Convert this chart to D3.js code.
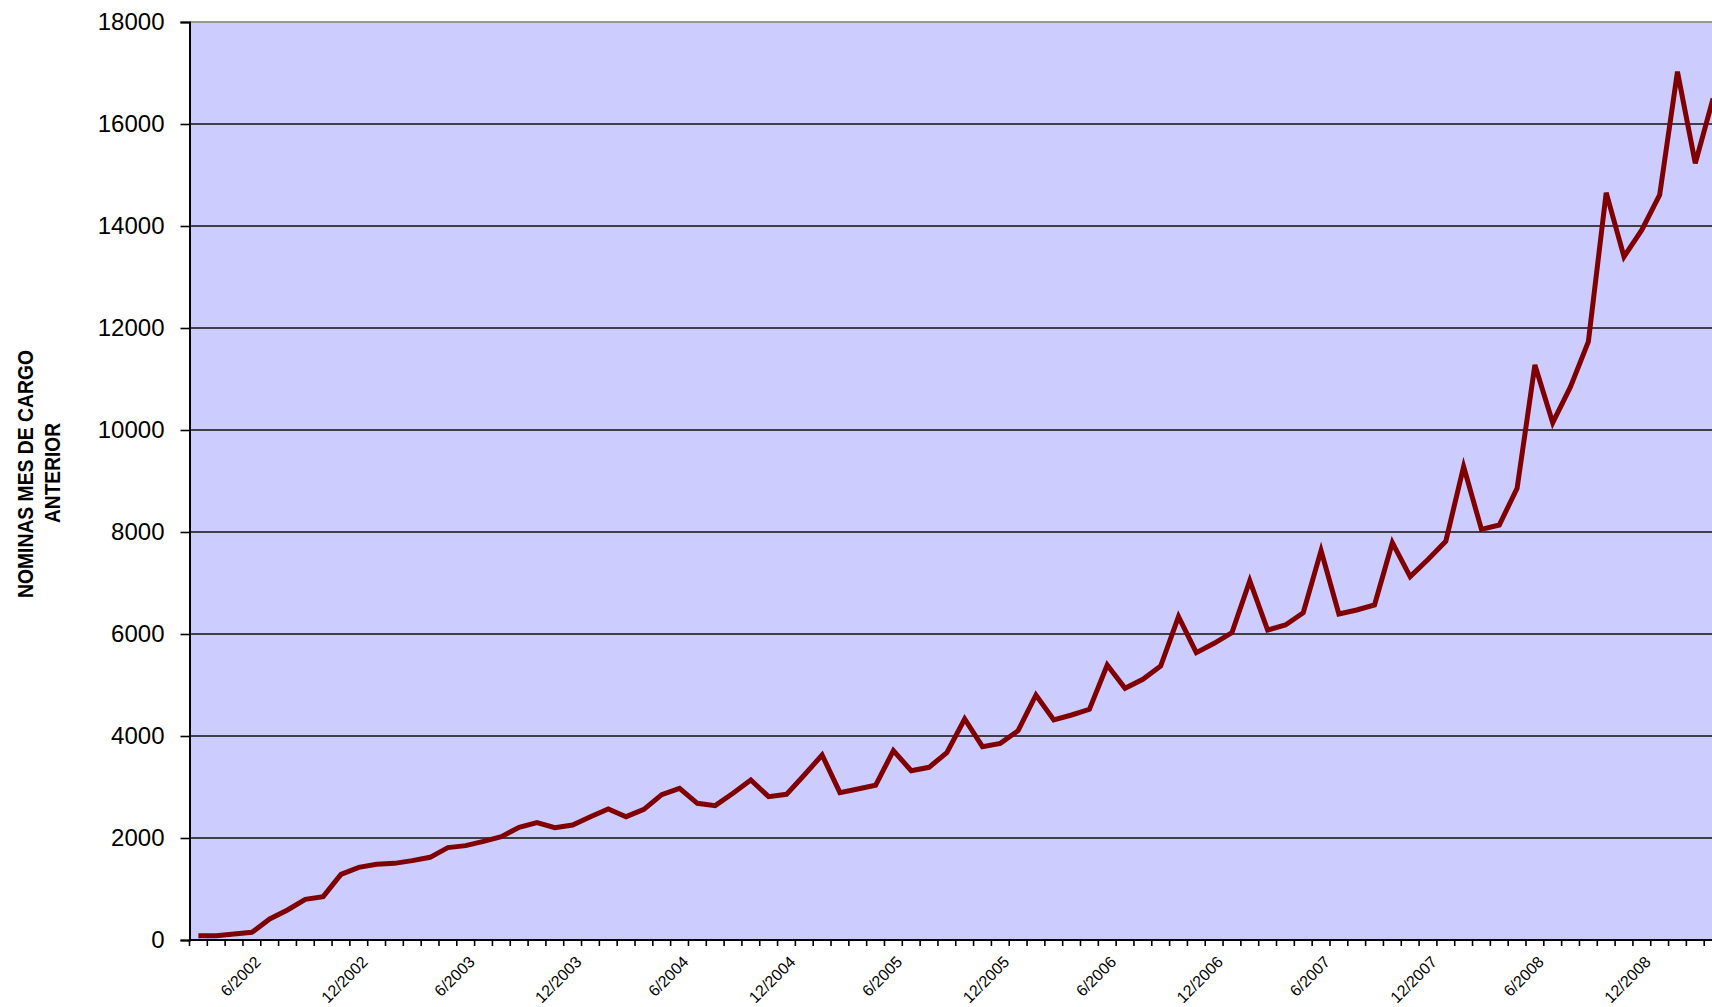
<!DOCTYPE html>
<html>
<head>
<meta charset="utf-8">
<script src="https://cdn.jsdelivr.net/npm/d3@7"></script>
<style>
  body { margin: 0; background: #fff; overflow: hidden; }
  svg { display: block; }
  text { font-family: "Liberation Sans", Arial, sans-serif; }
</style>
</head>
<body>
<div id="chart"></div>
<script>
// monthly categories, 3/2002 .. 4/2009
var months = [
  "3/2002","4/2002","5/2002","6/2002","7/2002","8/2002","9/2002","10/2002","11/2002","12/2002",
  "1/2003","2/2003","3/2003","4/2003","5/2003","6/2003","7/2003","8/2003","9/2003","10/2003","11/2003","12/2003",
  "1/2004","2/2004","3/2004","4/2004","5/2004","6/2004","7/2004","8/2004","9/2004","10/2004","11/2004","12/2004",
  "1/2005","2/2005","3/2005","4/2005","5/2005","6/2005","7/2005","8/2005","9/2005","10/2005","11/2005","12/2005",
  "1/2006","2/2006","3/2006","4/2006","5/2006","6/2006","7/2006","8/2006","9/2006","10/2006","11/2006","12/2006",
  "1/2007","2/2007","3/2007","4/2007","5/2007","6/2007","7/2007","8/2007","9/2007","10/2007","11/2007","12/2007",
  "1/2008","2/2008","3/2008","4/2008","5/2008","6/2008","7/2008","8/2008","9/2008","10/2008","11/2008","12/2008",
  "1/2009","2/2009","3/2009","4/2009"
]

// NOMINAS MES DE CARGO ANTERIOR
var nominas = [
  85, 85, 118, 150, 412, 588, 797, 850, 1287, 1425,
  1484, 1503, 1556, 1621, 1811, 1850, 1935, 2026, 2209, 2300, 2202, 2255,
  2418, 2570, 2418, 2560, 2850, 2975, 2680, 2634, 2876, 3137, 2810, 2856,
  3235, 3627, 2889, 2961, 3033, 3712, 3320, 3386, 3673, 4333, 3791, 3856,
  4104, 4804, 4314, 4412, 4523, 5392, 4935, 5111, 5373, 6340, 5634, 5817,
  6026, 7045, 6078, 6176, 6418, 7634, 6392, 6471, 6569, 7790, 7124, 7460,
  7820, 9281, 8052, 8137, 8856, 11275, 10144, 10850, 11732, 14653, 13398, 13922,
  14608, 17026, 15229, 16500
]

var xLabels = ["6/2002","12/2002","6/2003","12/2003","6/2004","12/2004","6/2005",
  "12/2005","6/2006","12/2006","6/2007","12/2007","6/2008","12/2008"]
var yTicks = [0, 2000, 4000, 6000, 8000, 10000, 12000, 14000, 16000, 18000]

var width = 1712, height = 1007
var plotLeft = 189.5, plotTop = 22, plotBottom = 940
var step = 17.82

var svg = d3.select("#chart")
  .append("svg")
    .attr("width", width)
    .attr("height", height)

var x = d3.scaleBand()
  .domain(months)
  .range([plotLeft, plotLeft + months.length * step])
  .padding(0)
var y = d3.scaleLinear()
  .domain([0, 18000])
  .range([plotBottom, plotTop])

// plot area
svg.append("rect")
  .attr("x", plotLeft).attr("y", plotTop)
  .attr("width", width - plotLeft + 20).attr("height", plotBottom - plotTop)
  .attr("fill", "#CCCCFF")

// gridlines
svg.selectAll(".grid")
  .data(yTicks.slice(1, -1))
  .enter()
  .append("line")
    .attr("x1", plotLeft).attr("x2", width)
    .attr("y1", d => y(d)).attr("y2", d => y(d))
    .style("stroke", "#111")
    .style("stroke-width", 1.6)

// top border
svg.append("line")
  .attr("x1", plotLeft).attr("x2", width)
  .attr("y1", y(18000)).attr("y2", y(18000))
  .style("stroke", "#999").style("stroke-width", 2)

// y axis
var yAxis = svg.append("g")
  .attr("transform", "translate(" + plotLeft + ",0)")
  .call(d3.axisLeft(y).tickValues(yTicks).tickSize(9).tickPadding(16).tickFormat(d3.format("d")))
yAxis.select(".domain").style("stroke", "#000").style("stroke-width", 2)
yAxis.selectAll(".tick line").style("stroke", "#000").style("stroke-width", 1.6)
yAxis.selectAll("text")
  .style("font-size", "24px")
  .style("font-family", "'Liberation Sans', Arial, sans-serif")
  .attr("fill", "#000")

// x axis line + ticks at category boundaries
svg.append("line")
  .attr("x1", plotLeft).attr("x2", width)
  .attr("y1", plotBottom).attr("y2", plotBottom)
  .style("stroke", "#000").style("stroke-width", 2)

svg.selectAll(".xtick")
  .data(months)
  .enter()
  .append("line")
    .attr("x1", d => x(d)).attr("x2", d => x(d))
    .attr("y1", plotBottom).attr("y2", plotBottom + 6)
    .style("stroke", "#000").style("stroke-width", 1.6)

svg.selectAll(".xlabel")
  .data(xLabels)
  .enter()
  .append("text")
    .attr("transform", d => "translate(" + (x(d) + x.bandwidth() / 2 + 10) + "," + 963 + ") rotate(-45)")
    .attr("text-anchor", "end")
    .style("font-size", "16px")
    .text(d => d)

// series line
var line = d3.line()
  .x((d, i) => x(months[i]) + x.bandwidth() / 2)
  .y(d => y(d))

svg.append("path")
  .datum(nominas)
  .attr("d", line)
  .attr("fill", "none")
  .style("stroke", "#800000")
  .style("stroke-width", 5)
  .style("stroke-linejoin", "miter")

// y axis title
svg.append("text")
  .attr("transform", "translate(33,474) rotate(-90)")
  .attr("text-anchor", "middle")
  .attr("textLength", 248)
  .attr("lengthAdjust", "spacingAndGlyphs")
  .style("font-size", "22px").style("font-weight", "bold")
  .text("NOMINAS MES DE CARGO")
svg.append("text")
  .attr("transform", "translate(60,473) rotate(-90)")
  .attr("text-anchor", "middle")
  .attr("textLength", 100)
  .attr("lengthAdjust", "spacingAndGlyphs")
  .style("font-size", "22px").style("font-weight", "bold")
  .text("ANTERIOR")
</script>
</body>
</html>
